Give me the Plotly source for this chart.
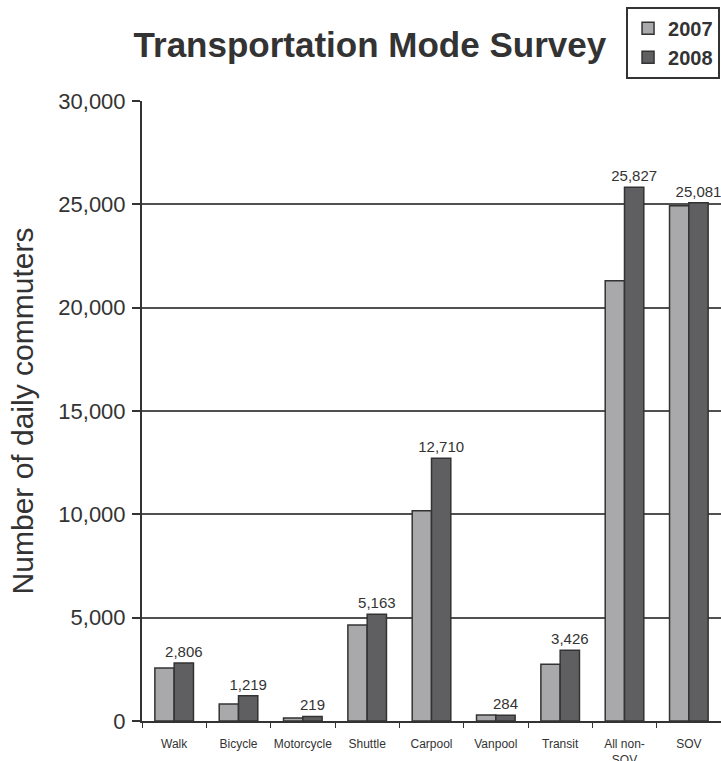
import plotly.graph_objects as go

# Survey results by commute mode
categories = ["Walk", "Bicycle", "Motorcycle", "Shuttle", "Carpool",
              "Vanpool", "Transit", "All non-<br>SOV", "SOV"]
values_2007 = [2560, 820, 150, 4650, 10170, 290, 2750, 21300, 24930]
values_2008 = [2806, 1219, 219, 5163, 12710, 284, 3426, 25827, 25081]
y_ticks = [0, 5000, 10000, 15000, 20000, 25000, 30000]

FONT = "Liberation Sans, Arial"
INK = "#333333"

fig = go.Figure()
fig.add_trace(go.Bar(
    x=categories, y=values_2007, name="2007",
    marker=dict(color="#a9a9ab", line=dict(color=INK, width=1.5)),
))
fig.add_trace(go.Bar(
    x=categories, y=values_2008, name="2008",
    marker=dict(color="#5f5f61", line=dict(color=INK, width=1.5)),
    text=values_2008, texttemplate="%{y:,}", textposition="outside",
    textfont=dict(size=15, color=INK, family=FONT),
    cliponaxis=False,
))

fig.update_layout(
    width=721, height=761,
    margin=dict(l=142, r=0, t=101, b=40, autoexpand=False),
    paper_bgcolor="white", plot_bgcolor="white",
    barmode="group", bargap=0.4, bargroupgap=0,
    uniformtext=dict(minsize=15, mode="show"),
    font=dict(family=FONT, color=INK),
    title=dict(text="<b>Transportation Mode Survey</b>", x=0.513, xanchor="center",
               y=0.941, yanchor="middle",
               font=dict(size=35, color=INK, family=FONT)),
    legend=dict(x=0.836, y=1.152, xanchor="left", yanchor="top",
                bordercolor=INK, borderwidth=2, bgcolor="white",
                font=dict(size=20, color=INK, family=FONT, weight="bold"),
                tracegroupgap=0, itemwidth=30),
    showlegend=True,
)
fig.update_yaxes(
    range=[0, 30000], tickvals=y_ticks, tickformat=",",
    showgrid=True, gridcolor="#505050", gridwidth=1.5,
    showline=True, linecolor=INK, linewidth=2,
    ticks="outside", ticklen=8, tickcolor=INK, tickwidth=1.5,
    tickfont=dict(size=22, color=INK), ticklabelstandoff=2,
    title=dict(text="Number of daily commuters", font=dict(size=30, color=INK),
               standoff=16),
    zeroline=False,
)
fig.update_xaxes(
    showline=True, linecolor=INK, linewidth=2,
    ticks="outside", tickson="boundaries", ticklen=5, tickcolor=INK,
    tickangle=0, ticklabelstandoff=11,
    tickfont=dict(size=12, color=INK, family=FONT),
    range=[-0.5, 8.5],
)

fig.write_html("out.html")
